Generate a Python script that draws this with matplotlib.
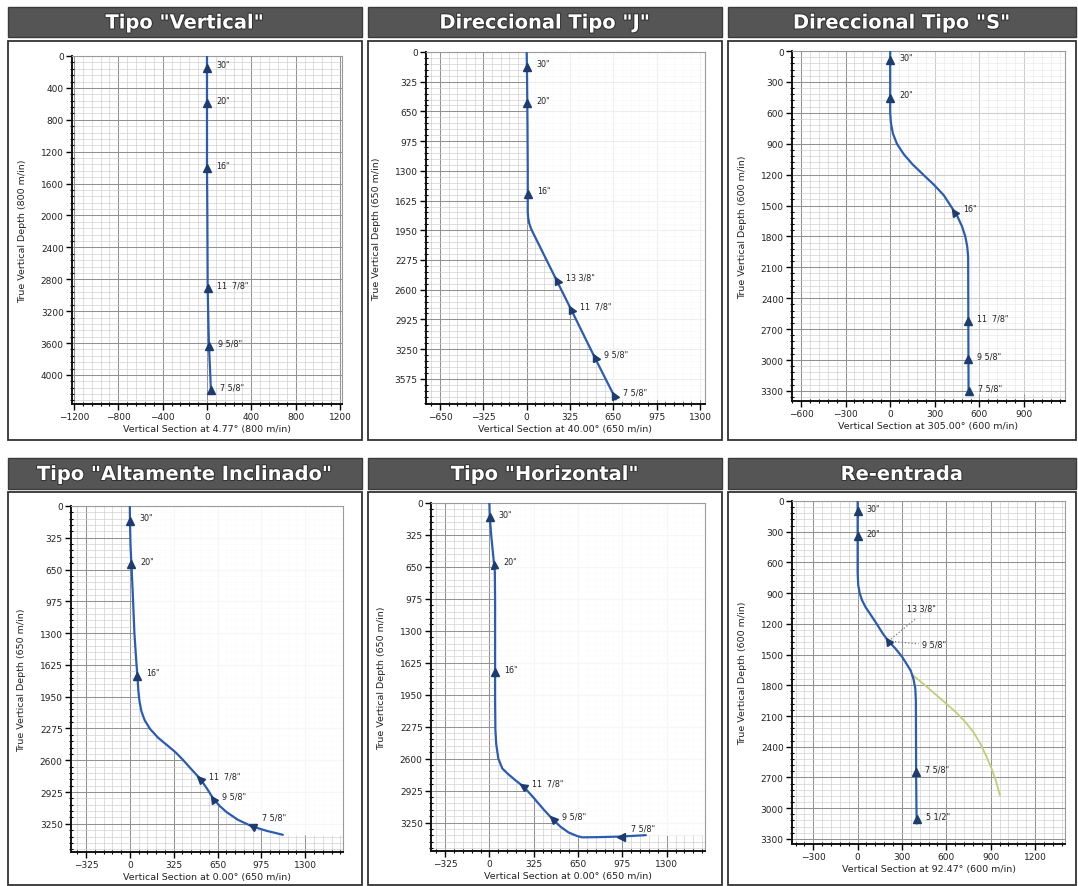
import numpy as np
import matplotlib
matplotlib.use("Agg")
import matplotlib.pyplot as plt
from matplotlib.patches import Rectangle
from matplotlib.markers import MarkerStyle
from matplotlib.transforms import Affine2D
from matplotlib.ticker import MultipleLocator, FixedLocator
import matplotlib.patheffects as pe

# ---------------- DATA ----------------
titles = ['Tipo "Vertical"', 'Direccional Tipo "J"', 'Direccional Tipo "S"',
          'Tipo "Altamente Inclinado"', 'Tipo "Horizontal"', 'Re-entrada']
y_labels = ['True Vertical Depth (800 m/in)', 'True Vertical Depth (650 m/in)',
            'True Vertical Depth (600 m/in)', 'True Vertical Depth (650 m/in)',
            'True Vertical Depth (650 m/in)', 'True Vertical Depth (600 m/in)']
x_labels = ['Vertical Section at 4.77° (800 m/in)', 'Vertical Section at 40.00° (650 m/in)',
            'Vertical Section at 305.00° (600 m/in)', 'Vertical Section at 0.00° (650 m/in)',
            'Vertical Section at 0.00° (650 m/in)', 'Vertical Section at 92.47° (600 m/in)']

x_ticks = [[-1200, -800, -400, 0, 400, 800, 1200],
           [-650, -325, 0, 325, 650, 975, 1300],
           [-600, -300, 0, 300, 600, 900],
           [-325, 0, 325, 650, 975, 1300],
           [-325, 0, 325, 650, 975, 1300],
           [-300, 0, 300, 600, 900, 1200]]
y_ticks = [[0, 400, 800, 1200, 1600, 2000, 2400, 2800, 3200, 3600, 4000],
           [0, 325, 650, 975, 1300, 1625, 1950, 2275, 2600, 2925, 3250, 3575],
           [0, 300, 600, 900, 1200, 1500, 1800, 2100, 2400, 2700, 3000, 3300],
           [0, 325, 650, 975, 1300, 1625, 1950, 2275, 2600, 2925, 3250],
           [0, 325, 650, 975, 1300, 1625, 1950, 2275, 2600, 2925, 3250],
           [0, 300, 600, 900, 1200, 1500, 1800, 2100, 2400, 2700, 3000, 3300]]

# well trajectories: vertical section (x) and true vertical depth (y)
vs_vertical = [0, 0, 3, 6, 12, 18, 28, 35, 38]
tvd_vertical = [0, 1400, 2000, 2900, 3300, 3640, 3950, 4190, 4240]

vs_j = [0, 3, 6, 8, 8, 11, 18, 31, 45, 227, 333, 510, 655, 668]
tvd_j = [0, 300, 800, 1300, 1750, 1809, 1868, 1926, 1970, 2505, 2816, 3340, 3758, 3800]

vs_s = [0, 0, 5, 18, 45, 90, 150, 222, 295, 360, 405, 450, 482, 505, 518, 524, 525, 526, 527]
tvd_s = [0, 600, 700, 800, 900, 1000, 1100, 1200, 1300, 1400, 1500, 1600, 1700, 1800, 1900,
         2000, 2500, 3000, 3330]

vs_hi = [0, 1, 5, 12, 22, 34, 46, 56, 64, 72, 86, 110, 150, 210, 280, 340, 390, 455, 522,
         572, 620, 668, 718, 800, 902, 1010, 1134]
tvd_hi = [0, 150, 400, 600, 900, 1300, 1550, 1735, 1900, 2000, 2100, 2190, 2280, 2370, 2450,
          2520, 2590, 2690, 2790, 2890, 2995, 3070, 3131, 3208, 3274, 3320, 3362]

vs_h = [0, 3, 15, 30, 40, 42, 42, 42, 44, 50, 66, 95, 140, 200, 250, 320, 400, 464, 520, 580,
        640, 680, 800, 963, 1147]
tvd_h = [0, 146, 350, 560, 700, 1000, 1500, 2000, 2300, 2450, 2600, 2700, 2760, 2830, 2883,
         2990, 3120, 3216, 3290, 3350, 3385, 3400, 3398, 3392, 3378]

vs_re = [0, 0, 0, 4, 14, 30, 55, 88, 129, 168, 208, 255, 300, 335, 360, 378, 390, 394, 395,
         396, 398, 400]
tvd_re = [0, 300, 700, 820, 900, 970, 1040, 1110, 1200, 1290, 1368, 1440, 1520, 1600, 1660,
          1740, 1830, 1950, 2300, 2700, 3000, 3150]

# original (abandoned) hole in re-entry well
vs_orig = [372, 440, 520, 600, 670, 730, 785, 830, 870, 905, 935, 962]
tvd_orig = [1700, 1780, 1880, 1980, 2070, 2160, 2260, 2370, 2490, 2610, 2730, 2870]

traj_vs = [vs_vertical, vs_j, vs_s, vs_hi, vs_h, vs_re]
traj_tvd = [tvd_vertical, tvd_j, tvd_s, tvd_hi, tvd_h, tvd_re]

# casing points
casing_labels = [['30"', '20"', '16"', '11  7/8"', '9 5/8"', '7 5/8"'],
                 ['30"', '20"', '16"', '13 3/8"', '11  7/8"', '9 5/8"', '7 5/8"'],
                 ['30"', '20"', '16"', '11  7/8"', '9 5/8"', '7 5/8"'],
                 ['30"', '20"', '16"', '11  7/8"', '9 5/8"', '7 5/8"'],
                 ['30"', '20"', '16"', '11  7/8"', '9 5/8"', '7 5/8"'],
                 ['30"', '20"', '13 3/8"', '7 5/8"', '5 1/2"']]
casing_vs = [[0, 0, 0, 6, 18, 35],
             [2, 5, 8, 227, 333, 510, 655],
             [0, 0, 432, 525, 526, 527],
             [1, 12, 56, 522, 620, 902],
             [3, 37, 42, 250, 464, 963],
             [0, 0, 208, 396, 399]]
casing_tvd = [[150, 590, 1410, 2905, 3640, 4190],
              [160, 560, 1552, 2495, 2816, 3340, 3754],
              [91, 453, 1563, 2624, 2986, 3303],
              [153, 596, 1735, 2790, 2995, 3274],
              [146, 630, 1720, 2883, 3216, 3392],
              [98, 342, 1368, 2650, 3110]]
reentry_extra_label = '9 5/8"'

# ---------------- LAYOUT / STYLE ----------------
W, H = 1078, 887
fig = plt.figure(figsize=(W / 100, H / 100), dpi=100)
fig.patch.set_facecolor('white')

def fx(x): return x / W
def fy(y): return 1 - y / H

cols = [(8, 362), (368, 722), (728, 1076)]
rows = [((8, 38), (42, 441)), ((459, 490), (493, 886))]

# axes pixel boxes: left, right, top, bottom
ax_boxes = [(72, 342, 57, 405), (426, 705, 53, 405), (792, 1065, 52, 402),
            (71, 343, 507, 853), (431, 705, 504, 852), (792, 1065, 502, 845)]
xlims = [(-1218, 1218), (-755, 1337), (-660, 1175), (-436, 1580), (-428, 1581), (-444, 1403)]
ylims = [(4364, 0), (3850, 0), (3398, 0), (3538, 0), (3539, 0), (3350, 0)]
minor_steps = [(80, 80), (65, 65), (60, 60), (65, 65), (65, 65), (60, 60)]
white_alpha = [0, 0.85, 0.55, 0.92, 0.92, 0]

line_color = '#2b5cb3'
marker_color = '#1d3c70'

for i in range(6):
    r, c = divmod(i, 3)
    (tb0, tb1), (fb0, fb1) = rows[r]
    x0, x1 = cols[c]
    # title bar
    fig.add_artist(Rectangle((fx(x0), fy(tb1)), fx(x1) - fx(x0), fy(tb0) - fy(tb1),
                             transform=fig.transFigure, facecolor='#555555',
                             edgecolor='#3a3a3a', lw=1.0, zorder=0))
    fig.text(fx((x0 + x1) / 2), fy((tb0 + tb1) / 2 + 1), titles[i], color='white',
             fontsize=14, fontweight='bold', ha='center', va='center',
             path_effects=[pe.withStroke(linewidth=1.5, foreground='#333333')])
    # frame
    fig.add_artist(Rectangle((fx(x0), fy(fb1)), fx(x1) - fx(x0), fy(fb0) - fy(fb1),
                             transform=fig.transFigure, facecolor='white',
                             edgecolor='#333333', lw=1.3, zorder=0))

axes = []
for i in range(6):
    l, rr, t, b = ax_boxes[i]
    ax = fig.add_axes([fx(l), fy(b), fx(rr) - fx(l), fy(t) - fy(b)])
    axes.append(ax)
    ax.set_xlim(*xlims[i])
    ax.set_ylim(*ylims[i])
    ax.xaxis.set_major_locator(FixedLocator(x_ticks[i]))
    ax.yaxis.set_major_locator(FixedLocator(y_ticks[i]))
    ax.xaxis.set_minor_locator(MultipleLocator(minor_steps[i][0]))
    ax.yaxis.set_minor_locator(MultipleLocator(minor_steps[i][1]))
    ax.set_axisbelow(True)
    ax.grid(which='major', color='#929292', lw=0.75)
    ax.grid(which='minor', color='#cccccc', lw=0.45)
    for s in ['left', 'bottom']:
        ax.spines[s].set_color('#111111')
        ax.spines[s].set_linewidth(1.4)
    for s in ['top', 'right']:
        ax.spines[s].set_color('#9a9a9a')
        ax.spines[s].set_linewidth(0.8)
    ax.tick_params(which='major', length=4, width=1, direction='out', labelsize=6.5,
                   labelcolor='#222222', pad=2)
    ax.tick_params(which='minor', length=2.5, width=0.8, direction='inout')
    ax.tick_params(top=False, right=False)
    ax.set_ylabel(y_labels[i], fontsize=6.8, color='#222222', labelpad=10)
    ax.set_xlabel(x_labels[i], fontsize=6.8, color='#222222', labelpad=2)

    vs = np.array(traj_vs[i], float)
    tvd = np.array(traj_tvd[i], float)
    if white_alpha[i] > 0:
        ax.fill_betweenx(tvd, vs, xlims[i][1], color='white', alpha=white_alpha[i],
                         lw=0, zorder=1)
    if i == 5:
        ax.plot(vs_orig, tvd_orig, color='#c3cc78', lw=1.3, zorder=2)
    ax.plot(vs, tvd, color=line_color, lw=1.6, zorder=3, solid_capstyle='round')

    # markers oriented back along the path (toward surface)
    pts = ax.transData.transform(np.column_stack([vs, tvd]))
    for k, (cx, cy) in enumerate(zip(casing_vs[i], casing_tvd[i])):
        p = ax.transData.transform((cx, cy))
        best, bdir = 1e18, (0, 1)
        for j in range(len(pts) - 1):
            a, bb = pts[j], pts[j + 1]
            seg = bb - a
            L2 = seg @ seg
            if L2 == 0:
                continue
            tt = np.clip((p - a) @ seg / L2, 0, 1)
            d = np.linalg.norm(a + tt * seg - p)
            if d < best:
                best, bdir = d, (a - bb)
        ang = np.degrees(np.arctan2(bdir[1], bdir[0])) - 90
        ms = MarkerStyle('^', transform=Affine2D().rotate_deg(ang))
        ax.plot([cx], [cy], marker=ms, markersize=5.5, color=marker_color, zorder=4,
                linestyle='none')
        lab = casing_labels[i][k]
        if i == 5 and lab == '13 3/8"':
            # leader lines
            ax.plot([cx, 388], [cy, 1156], ls=':', color='#777777', lw=0.9, zorder=3)
            ax.plot([cx, 412], [cy, 1395], ls=':', color='#777777', lw=0.9, zorder=3)
            ax.text(332, 1090, lab, fontsize=5.8, color='#222222', ha='left', va='bottom')
            ax.text(433, 1400, reentry_extra_label, fontsize=5.8, color='#222222',
                    ha='left', va='center')
            continue
        off = (9, 3)
        if (i == 3 or i == 4) and k == len(casing_vs[i]) - 1:
            off = (10, 9)
        ax.annotate(lab, (cx, cy), xytext=off, textcoords='offset pixels', fontsize=5.8,
                    color='#222222', ha='left', va='center', zorder=5)

fig.savefig('out.png', dpi=100, facecolor='white')
